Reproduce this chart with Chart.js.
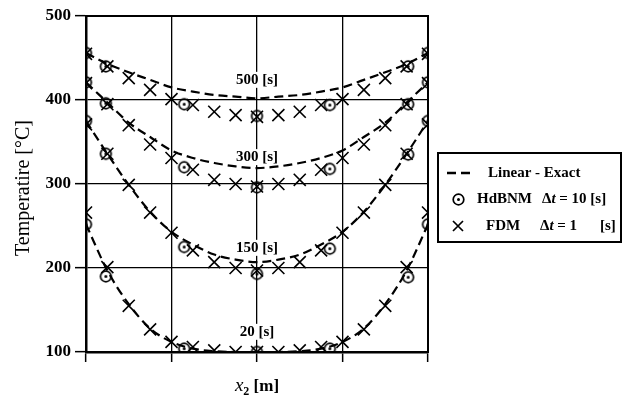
<!DOCTYPE html>
<html>
<head>
<meta charset="utf-8">
<script src="https://cdn.jsdelivr.net/npm/chart.js@4.4.1/dist/chart.umd.min.js"></script>
<style>
  html, body { margin: 0; padding: 0; background: #fff; }
  #wrap { width: 625px; height: 405px; }
</style>
</head>
<body>
<div id="wrap"><canvas id="chart" width="625" height="405"></canvas></div>
<script>
// x positions (fraction of the slab), FDM / exact grid and HdBNM nodes
var xFine = [0, 0.0625, 0.125, 0.1875, 0.25, 0.3125, 0.375, 0.4375, 0.5,
             0.5625, 0.625, 0.6875, 0.75, 0.8125, 0.875, 0.9375, 1];
var xNodes = [0, 0.058, 0.287, 0.5, 0.713, 0.942, 1];

var timeLabels = ["500 [s]", "300 [s]", "150 [s]", "20 [s]"];
var labelTemps = [424, 332, 224, 124];
var yTicks = [100, 200, 300, 400, 500];

var exact500 = [456, 443, 433, 424, 415, 410, 406, 404, 402, 404, 406, 410, 415, 424, 433, 443, 456];
var exact300 = [421, 397, 373, 356, 340, 331, 325, 321, 319, 321, 325, 331, 340, 356, 373, 397, 421];
var exact150 = [375, 336, 299, 267, 243, 228, 216, 210, 207, 210, 216, 228, 243, 267, 299, 336, 375];
var exact20  = [252, 197, 157, 128, 112, 104, 101, 100, 100, 100, 101, 104, 112, 128, 157, 197, 252];

var hdbnm500 = [456, 440, 395, 381, 394, 440, 456];
var hdbnm300 = [421, 396, 320, 296, 318, 395, 421];
var hdbnm150 = [375, 336, 225, 193, 223, 335, 375];
var hdbnm20  = [252, 190, 104, 100, 104, 189, 252];

var fdm500 = [455, 440, 426, 412, 401, 394, 386, 382, 380, 382, 386, 394, 401, 412, 426, 440, 455];
var fdm300 = [420, 395, 370, 347, 331, 317, 305, 300, 297, 300, 305, 317, 331, 347, 370, 395, 420];
var fdm150 = [371, 336, 299, 266, 242, 221, 207, 200, 197, 200, 207, 221, 242, 266, 299, 336, 371];
var fdm20  = [266, 201, 155, 127, 112, 106, 102, 100, 100, 100, 102, 106, 112, 127, 155, 201, 266];

var seriesNames = ["Linear - Exact", "HdBNM", "FDM"];

function pts(xs, ys) {
  return xs.map(function(x, i) { return {x: x, y: ys[i]}; });
}

// circle with a dot in the middle
var ringImg = document.createElement("canvas");
ringImg.width = 15; ringImg.height = 15;
(function() {
  var c = ringImg.getContext("2d");
  c.strokeStyle = "#000"; c.fillStyle = "#000"; c.lineWidth = 1.7;
  c.beginPath(); c.arc(7.5, 7.5, 5.3, 0, Math.PI * 2); c.stroke();
  c.beginPath(); c.arc(7.5, 7.5, 1.5, 0, Math.PI * 2); c.fill();
})();

var datasets = [];
[exact500, exact300, exact150, exact20].forEach(function(d) {
  datasets.push({
    data: pts(xFine, d), showLine: true, borderColor: "#000", borderWidth: 2.2,
    borderDash: [9, 5], pointRadius: 0, cubicInterpolationMode: "monotone", fill: false
  });
});
[hdbnm500, hdbnm300, hdbnm150, hdbnm20].forEach(function(d) {
  datasets.push({ data: pts(xNodes, d), showLine: false, pointStyle: ringImg, pointRadius: 6 });
});
[fdm500, fdm300, fdm150, fdm20].forEach(function(d) {
  datasets.push({
    data: pts(xFine, d), showLine: false, pointStyle: "crossRot", pointRadius: 8.5,
    borderColor: "#000", borderWidth: 1.6
  });
});

var extras = {
  id: "extras",
  beforeDatasetsDraw: function(chart) {
    var ctx = chart.ctx, xs = chart.scales.x, ys = chart.scales.y;
    ctx.save();
    ctx.font = 'bold 15px "Liberation Serif"';
    ctx.textAlign = "center"; ctx.textBaseline = "middle";
    timeLabels.forEach(function(t, i) {
      var px = xs.getPixelForValue(0.5), py = ys.getPixelForValue(labelTemps[i]);
      var w = ctx.measureText(t).width;
      ctx.fillStyle = "#fff";
      ctx.fillRect(px - w / 2 - 1, py - 8, w + 2, 16);
      ctx.fillStyle = "#000";
      ctx.fillText(t, px, py);
    });
    ctx.restore();
  },
  afterDraw: function(chart) {
    var ctx = chart.ctx, a = chart.chartArea;
    ctx.save();
    ctx.strokeStyle = "#000"; ctx.fillStyle = "#000";
    ctx.lineWidth = 2;
    ctx.strokeRect(a.left, a.top, a.right - a.left, a.bottom - a.top);

    // y title
    ctx.save();
    ctx.translate(24, 188);
    ctx.rotate(-Math.PI / 2);
    ctx.font = '20px "Liberation Serif"';
    ctx.textAlign = "center"; ctx.textBaseline = "middle";
    ctx.fillText("Temperatire [°C]", 0, 0);
    ctx.restore();

    // x title: x2 [m]
    ctx.textBaseline = "alphabetic"; ctx.textAlign = "left";
    var f1 = 'italic 19px "Liberation Serif"', f2 = 'bold 12px "Liberation Serif"', f3 = 'bold 17px "Liberation Serif"';
    ctx.font = f1; var w1 = ctx.measureText("x").width;
    ctx.font = f2; var w2 = ctx.measureText("2").width;
    ctx.font = f3; var w3 = ctx.measureText(" [m]").width;
    var cx = (a.left + a.right) / 2 - (w1 + w2 + w3) / 2, by = 391;
    ctx.font = f1; ctx.fillText("x", cx, by);
    ctx.font = f2; ctx.fillText("2", cx + w1, by + 4);
    ctx.font = f3; ctx.fillText(" [m]", cx + w1 + w2, by);

    // legend
    ctx.lineWidth = 2;
    ctx.strokeRect(438, 153, 183, 89);
    ctx.textBaseline = "middle";
    ctx.lineWidth = 2.4;
    ctx.setLineDash([9, 5]);
    ctx.beginPath(); ctx.moveTo(447, 173); ctx.lineTo(471, 173); ctx.stroke();
    ctx.setLineDash([]);
    var fb = 'bold 15px "Liberation Serif"', fi = 'bold italic 15px "Liberation Serif"';
    ctx.font = fb;
    ctx.fillText(seriesNames[0], 488, 173);
    ctx.drawImage(ringImg, 451, 192);
    ctx.fillText(seriesNames[1], 477, 199);
    function dt(x, y, rest) {
      ctx.font = fb; ctx.fillText("\u0394", x, y);
      var wd = ctx.measureText("\u0394").width;
      ctx.font = fi; ctx.fillText("t", x + wd, y);
      var wt = ctx.measureText("t").width;
      ctx.font = fb; ctx.fillText(rest, x + wd + wt, y);
    }
    dt(542, 199, " = 10 [s]");
    ctx.lineWidth = 1.7;
    ctx.beginPath();
    ctx.moveTo(453, 221); ctx.lineTo(463, 231);
    ctx.moveTo(463, 221); ctx.lineTo(453, 231);
    ctx.stroke();
    ctx.font = fb;
    ctx.fillText(seriesNames[2], 486, 226);
    dt(540, 226, " = 1");
    ctx.font = fb;
    ctx.fillText("[s]", 600, 226);
    ctx.restore();
  }
};

new Chart(document.getElementById("chart"), {
  type: "scatter",
  data: { datasets: datasets },
  options: {
    responsive: false,
    animation: false,
    layout: { padding: { left: 0, right: 197, top: 16, bottom: 0 } },
    plugins: { legend: { display: false }, tooltip: { enabled: false } },
    scales: {
      x: {
        type: "linear", min: 0, max: 1,
        afterFit: function(s) { s.height = 53; },
        ticks: { stepSize: 0.25, callback: function() { return ""; } },
        grid: { color: "#000", lineWidth: 1.3, tickLength: 10, tickWidth: 1.5, tickColor: "#000" },
        border: { display: true, color: "#000", width: 2.5 }
      },
      y: {
        min: 100, max: 500,
        afterFit: function(s) { s.width = 86; },
        afterBuildTicks: function(s) { s.ticks = yTicks.map(function(v) { return {value: v}; }); },
        ticks: { color: "#000", padding: 4, font: { family: "Liberation Serif", size: 17, weight: "bold" } },
        grid: { color: "#000", lineWidth: 1.3, tickLength: 11, tickWidth: 1.5, tickColor: "#000" },
        border: { display: true, color: "#000", width: 2.5 }
      }
    }
  },
  plugins: [extras]
});
</script>
</body>
</html>
